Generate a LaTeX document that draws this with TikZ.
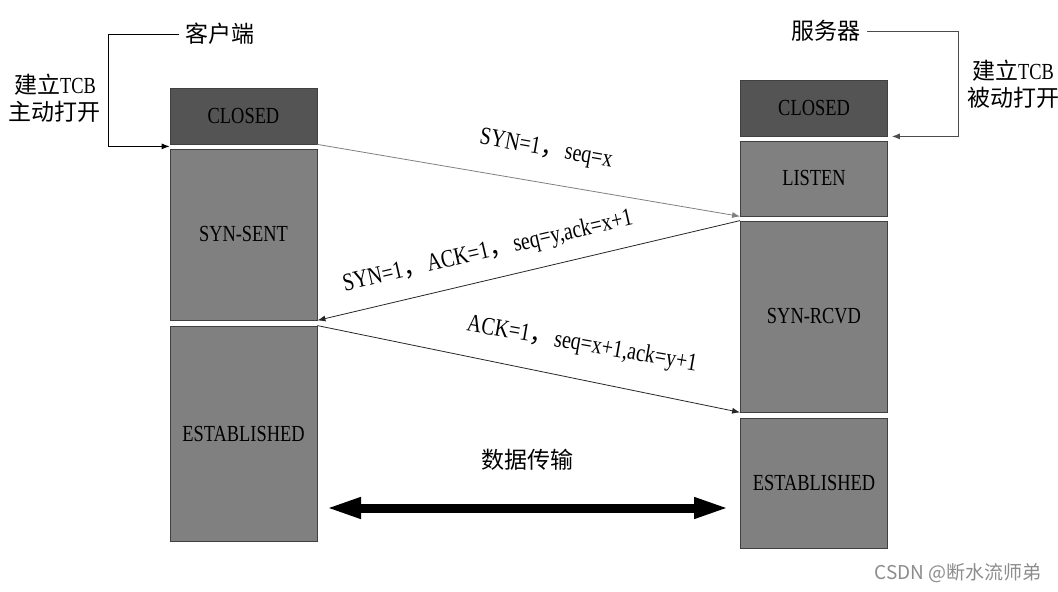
\documentclass[tikz,border=0pt]{standalone}
\usepackage{fontspec}
\setmainfont[FakeStretch=0.8]{Liberation Serif}
\newfontfamily\cjk{Noto Sans CJK SC}
\newfontfamily\wmfont{Noto Sans CJK SC}
\usetikzlibrary{arrows.meta}

\begin{document}
\begin{tikzpicture}[x=0.5pt, y=-0.5pt,
  state/.style={rectangle, draw=black!75, fill=black!50, minimum width=73.5pt, inner sep=0pt, font=\fontsize{11.5}{13.5}\selectfont},
  closedstate/.style={state, fill=black!67, minimum height=28pt},
  msg/.style={-{Latex[length=4pt,width=3pt]}, black!85},
  lbl/.style={font=\fontsize{11.5}{13.5}\selectfont, inner sep=0pt},
  msglbl/.style={font=\fontsize{12.5}{14}\selectfont, inner sep=0pt}]

\useasboundingbox (0,0) rectangle (1058,592);

% client side
\node [closedstate] (c1) at (243.5,116) {CLOSED};
\node [state, minimum height=85.5pt] (c2) at (243.5,234.5) {SYN-SENT};
\node [state, minimum height=107.5pt] (c3) at (243.5,433.5) {ESTABLISHED};

% server side
\node [closedstate] (s1) at (814,108) {CLOSED};
\node [state, minimum height=37.5pt] (s2) at (814,178.5) {LISTEN};
\node [state, minimum height=95.5pt] (s3) at (814,316.5) {SYN-RCVD};
\node [state, minimum height=65pt] (s4) at (814,483) {ESTABLISHED};

\node [lbl] (client) at (220,34) {\cjk 客户端};
\node [lbl] (server) at (826,31) {\cjk 服务器};
\node [lbl, align=center] (copen) at (55,98) {{\cjk 建立}TCB\\{\cjk 主动打开}};
\node [lbl, align=center] (sopen) at (1013,84) {{\cjk 建立}TCB\\{\cjk 被动打开}};

\coordinate (cbend) at (108,34);
\coordinate (sbend) at (958,31);
\draw [-{Latex[length=4pt,width=3pt]}] ([xshift=-3pt]client.west) -- (cbend) |- ([yshift=-1pt]c1.south west);
\draw [black!70, -{Latex[length=4pt,width=3pt]}] ([xshift=3pt]server.east) -- (sbend) |- ([xshift=2pt]s1.south east);

% handshake
\draw [msg, black!50] (c1.south east) -- (s2.south west);
\draw [msg] (s3.north west) -- (c2.south east);
\draw [msg] (c3.north east) -- (s3.south west);

\node [msglbl, rotate=-10] (m1) at (546,150) {SYN=1{\cjk ，}seq=x};
\node [msglbl, rotate=13] (m2) at (488,252) {SYN=1{\cjk ，}ACK=1{\cjk ，}seq=y,ack=x+1};
\node [msglbl, rotate=-10] (m3) at (582,345) {ACK=1{\cjk ，}seq=x+1,ack=y+1};

% data transfer
\node [lbl] (data) at (527,460) {\cjk 数据传输};
\coordinate (dl) at (325,508);
\coordinate (dr) at (730,508);
\draw [line width=4.5pt, {Triangle[length=18pt,width=9.5pt]}-{Triangle[length=18pt,width=9.5pt]}] (dl) -- (dr);

\node [font=\wmfont\fontsize{9.5}{11}\selectfont, text=black!45] (wm) at (958,573) {CSDN @断水流师弟};
\end{tikzpicture}
\end{document}
